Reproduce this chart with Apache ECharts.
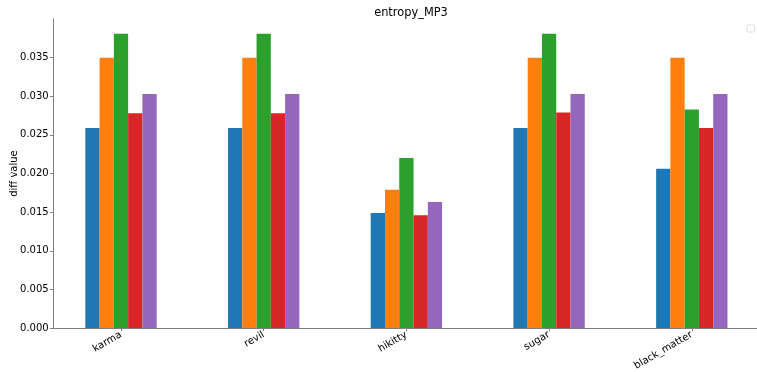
<!DOCTYPE html>
<html><head><meta charset="utf-8">
<script src="https://cdn.jsdelivr.net/npm/echarts@6/dist/echarts.min.js"></script>
<style>html,body{margin:0;padding:0;background:#fff}#c{width:757px;height:372px}</style>
</head><body><div id="c"></div>
<script>
const categories = ['karma', 'revil', 'hikitty', 'sugar', 'black_matter'];
const seriesA = [0.0259, 0.0259, 0.0149, 0.0259, 0.0206];
const seriesB = [0.0350, 0.0350, 0.0179, 0.0350, 0.0350];
const seriesC = [0.0381, 0.0381, 0.0220, 0.0381, 0.0283];
const seriesD = [0.0278, 0.0278, 0.0146, 0.0279, 0.0259];
const seriesE = [0.0303, 0.0303, 0.0163, 0.0303, 0.0303];
const yTicks = [0, 0.005, 0.010, 0.015, 0.020, 0.025, 0.030, 0.035];
const colors = ['#1f77b4', '#ff7f0e', '#2ca02c', '#d62728', '#9467bd'];
const yMax = 0.04;
const font = 'DejaVu Sans';
const spine = '#808080';

const chart = echarts.init(document.getElementById('c'), null, {renderer: 'canvas'});
const allSeries = [seriesA, seriesB, seriesC, seriesD, seriesE];
chart.setOption({
  animation: false,
  title: {text: 'entropy_MP3', left: 406, textAlign: 'center', top: 3,
    textStyle: {fontFamily: font, fontSize: 11.4, fontWeight: 'normal', color: '#000'}},
  grid: [
    {left: 53.3, right: -3, top: 19, bottom: 44, outerBoundsMode: 'none', containLabel: false},
    {left: 49.65, right: -6.15, top: 19, bottom: 44, outerBoundsMode: 'none', containLabel: false}
  ],
  xAxis: [
    {gridIndex: 0, type: 'value', min: 0, max: 1, position: 'top',
      axisLine: {show: true, lineStyle: {color: spine, width: 1}}, axisTick: {show: false},
      axisLabel: {show: false}, splitLine: {show: false}},
    {gridIndex: 1, type: 'category', data: categories, position: 'bottom',
      axisLine: {show: false}, splitLine: {show: false},
      axisTick: {show: true, alignWithLabel: true, length: 3.3, lineStyle: {color: spine}},
      axisLabel: {rotate: 30, margin: 6, fontFamily: font, fontSize: 10, color: '#000'}}
  ],
  yAxis: [
    {gridIndex: 0, type: 'value', min: 0, max: yMax,
      axisLine: {show: true, lineStyle: {color: spine, width: 1}},
      axisTick: {show: true, length: 3.3, lineStyle: {color: spine}, customValues: yTicks},
      axisLabel: {fontFamily: font, fontSize: 10, color: '#000', margin: 4.6, customValues: yTicks,
        formatter: v => v.toFixed(3)},
      splitLine: {show: false},
      name: 'diff value', nameLocation: 'middle', nameGap: 34, nameMoveOverlap: false,
      nameTextStyle: {fontFamily: font, fontSize: 10, color: '#000'}},
    {gridIndex: 1, type: 'value', min: 0, max: yMax, show: false, splitLine: {show: false}}
  ],
  graphic: [{type: 'rect', right: 2, top: 24.5, shape: {width: 7.5, height: 7, r: 1.5},
    style: {fill: '#fff', stroke: '#dddddd', lineWidth: 1}}],
  series: [
    {type: 'line', xAxisIndex: 0, yAxisIndex: 0, data: [], silent: true}
  ].concat(allSeries.map((d, i) => ({
    type: 'bar', xAxisIndex: 1, yAxisIndex: 1, data: d, barWidth: '10%', barGap: '0%',
    itemStyle: {color: colors[i]}
  })))
});
</script></body></html>
